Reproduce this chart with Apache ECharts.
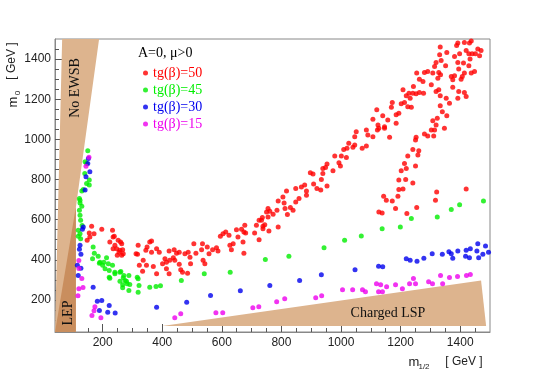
<!DOCTYPE html>
<html>
<head>
<meta charset="utf-8">
<title>m0 vs m1/2 scan</title>
<script src="https://cdn.jsdelivr.net/npm/echarts@6/dist/echarts.min.js"></script>
<style>
  html, body { margin: 0; padding: 0; background: #fff; }
  #chart { width: 545px; height: 370px; }
</style>
</head>
<body>
<div id="chart"></div>
<script>
// scan points, [m1/2, m0] in GeV
var tgb50 = [
  [163,567],[155,533],[171,530],[157,513],[148,497],[197,552],[233,547],[235,513],[224,488],[252,497],
  [260,488],[241,472],[247,455],[258,447],[264,422],[319,472],[312,430],[323,372],[239,517],[267,450],
  [269,430],[249,422],[255,438],[264,480],[317,427],[345,447],[349,463],[358,488],[364,493],[364,438],
  [381,455],[390,438],[336,397],[334,343],[347,372],[370,367],[381,330],[401,380],[409,405],[414,355],
  [423,330],[425,397],[423,443],[440,450],[448,433],[457,438],[437,410],[457,377],[462,350],[468,338],
  [476,430],[487,438],[493,413],[485,333],[495,380],[506,480],[513,433],[532,450],[537,397],[543,380],
  [535,480],[551,463],[557,430],[569,450],[582,460],[587,443],[595,517],[613,538],[624,522],[627,472],
  [632,450],[654,513],[649,550],[671,488],[674,433],[680,533],[677,572],[710,533],[716,572],[733,597],
  [738,555],[750,638],[755,613],[638,480],[604,530],[414,388],[442,397],[235,455],
  [666,552],[674,538],[725,597],[736,610],[738,567],[744,575],[725,500],[758,543],[755,655],[761,642],
  [772,627],[785,647],[789,563],[789,693],[805,713],[809,683],[817,743],[812,655],[820,625],[830,660],
  [839,647],[848,688],[848,755],[859,705],[867,763],[878,772],[884,743],[884,722],[897,833],[906,827],
  [908,777],[919,755],[932,747],[934,800],[939,830],[939,855],[948,860],[953,877],[953,767],[973,843],
  [979,917],[993,883],[998,867],[1001,917],[1009,950],[1018,910],[1020,955],[1026,980],[1040,960],[1046,972],
  [1046,1013],[1051,1038],[1071,955],[1085,967],[1090,1022],[1107,1013],[1122,1047],[1124,1072],[1146,1063],[1163,1010],
  [1185,1080],[1085,1047],
  [1107,1100],[1120,1147],[1127,1055],[1140,1117],[1146,1055],[1157,1097],[1172,1183],[1169,1160],[1194,1130],[1185,1122],
  [1202,1177],[1213,1183],[1224,1163],[1236,1160],[1208,1247],[1219,1217],[1232,1205],[1228,1230],[1241,1230],[1243,1263],
  [1252,1227],[1263,1233],[1277,1230],[1254,1330],[1263,1300],[1275,1288],[1280,1333],[1291,1338],[1308,1330],[1303,1272],
  [1319,1238],[1328,1247],[1333,1217],[1353,1205],[1375,1260],[1392,1205],[1395,1238],[1414,1233],[1420,1213],[1314,1363],
  [1319,1383],[1336,1393],[1351,1367],[1328,1333],[1334,1322],[1325,1305],[1333,1460],[1331,1422],[1355,1433],[1381,1413],
  [1398,1427],[1420,1443],[1429,1427],[1440,1427],[1451,1427],[1459,1450],[1470,1443],[1465,1417],[1433,1400],[1429,1367],
  [1411,1380],[1392,1383],[1395,1350],[1437,1330],[1448,1338],[1414,1330],[1407,1313],[1403,1300],[1381,1317],[1370,1313],
  [1375,1297],[1437,1490],[1414,1483],[1431,1480],[1392,1480],[1388,1467],
  [1333,1167],[1340,1138],[1355,1117],[1347,1055],[1323,1105],[1308,1093],[1319,1072],[1303,1047],[1314,1047],[1280,1027],
  [1291,1017],[1311,1017],[1252,1010],[1250,997],[1241,950],[1261,943],[1258,922],[1224,917],[1364,1180],[1213,880],
  [1219,855],[1250,867],[1202,843],[1194,797],[1217,800],[1241,783],[1194,750],[1208,752],[1321,738],[1420,752],
  [1191,717],[1143,717],[1152,697],[1172,693],[1317,697],[1183,655],[1254,660],[1127,638],[1138,633],[1221,630]
];
var tgb45 = [
  [150,943],[141,888],[146,880],[140,830],[155,797],[146,780],[155,772],[130,743],[135,750],[122,705],
  [124,683],[130,667],[122,647],[124,622],[126,597],[131,571],[118,547],[124,530],[118,517],[126,505],
  [124,697],
  [168,463],[172,433],[185,417],[166,405],[191,388],[204,388],[200,372],[213,410],[219,380],[208,355],
  [222,347],[233,372],[222,313],[241,338],[258,338],[271,322],[288,322],[275,297],[282,280],[267,275],
  [291,277],[288,247],[316,313],[319,238],[319,305],[189,383],[224,308],[241,330],[261,342],[258,293],
  [269,310],[280,293],[267,260],[322,272],
  [358,263],[379,267],[394,270],[464,297],[541,330],[628,338],[746,401],[825,417],[943,460],[1012,497],
  [1068,518],[1138,555],[1199,563],[1236,605],[1323,613],[1370,650],[1398,674],[1478,693]
];
var tgb30 = [
  [152,905],[150,880],[157,838],[144,813],[141,747],[135,563],[132,552],[124,472],[122,452],[127,427],
  [115,372],[127,358],[118,322],[168,263],[182,193],[197,197],[189,147],[222,172],[242,135],[217,138],
  [381,163],[482,188],[562,222],[662,245],[761,272],[861,297],[934,325],[1047,350],[1126,368],[1140,365],
  [1219,405],[1232,398],[1255,393],[1278,407],[1306,430],[1340,427],[1362,440],[1370,430],[1375,408],[1392,443],
  [1420,447],[1434,455],[1418,417],[1431,410],[1456,443],[1462,410],[1476,427],[1459,480],[1485,468],[1495,438]
];
var tgb15 = [
  [154,911],[144,866],[120,396],[120,356],[130,307],[134,262],[120,256],[117,221],[164,122],[171,146],
  [174,166],[194,111],[442,111],[462,131],[580,136],[603,136],[704,161],[724,166],[784,191],[811,206],
  [915,211],[935,221],[1005,251],[1039,251],[1072,251],[1082,241],[1126,241],[1139,241],[1119,281],[1133,276],
  [1153,266],[1183,276],[1206,256],[1230,281],[1243,306],[1250,281],[1294,291],[1307,281],[1334,321],[1341,281],
  [1364,311],[1391,316],[1421,321],[1434,326]
];

// excluded regions, polygon corners [m1/2, m0]
var noEwsbRegion = [[40,40],[64,1500],[188,1500],[110,660],[110,40]];
var lepRegion = [[40,40],[110,40],[110,663]];
var chargedLspRegion = [[400,70],[1470,297],[1487,70]];

var seriesNames = ['tg(β)=50', 'tg(β)=45', 'tg(β)=30', 'tg(β)=15'];
var xTickLabels = [200, 400, 600, 800, 1000, 1200, 1400];
var yTickLabels = [200, 400, 600, 800, 1000, 1200, 1400];
var minorTicks = [];
for (var v = 50; v < 1500; v += 50) minorTicks.push(v);

var colors = ['#ff0000', '#00ee00', '#0000ee', '#ee00ee'];
var serif = '"Liberation Serif", "DejaVu Serif", serif';
var sans = '"Liberation Sans", Arial, sans-serif';

function regionSeries(pts, color) {
  return {
    type: 'custom',
    silent: true,
    z: 1,
    data: pts,
    renderItem: function (params, api) {
      if (params.dataIndex !== 0) return;
      return {
        type: 'polygon',
        shape: { points: pts.map(function (p) { return api.coord(p); }) },
        style: { fill: color }
      };
    }
  };
}

function scatterSeries(name, data, color) {
  return {
    name: name,
    type: 'scatter',
    z: 3,
    symbolSize: 5,
    itemStyle: { color: color },
    data: data
  };
}

function plainLabel(v) { return String(v); }

function valueAxis(extra) {
  var axis = {
    type: 'value',
    min: 40,
    max: 1500,
    splitLine: { show: false },
    axisLine: { show: true, lineStyle: { color: '#888', width: 1 } },
    axisTick: { show: true, inside: true, length: 4, customValues: minorTicks, lineStyle: { color: '#555' } },
    axisLabel: { show: true, margin: 5, color: '#222', fontSize: 12, fontFamily: sans,
                 customValues: xTickLabels, formatter: plainLabel }
  };
  return Object.assign(axis, extra);
}

var chart = echarts.init(document.getElementById('chart'));

chart.setOption({
  animation: false,
  backgroundColor: '#fff',
  grid: { left: 55, right: 55, top: 39, bottom: 38, show: true, borderColor: '#888', borderWidth: 1 },
  xAxis: [
    valueAxis({ position: 'bottom' }),
    valueAxis({
      position: 'bottom',
      axisLine: { show: false },
      axisLabel: { show: false },
      axisTick: { show: true, inside: true, length: 8, customValues: xTickLabels, lineStyle: { color: '#555' } }
    })
  ],
  yAxis: [
    valueAxis({
      position: 'left',
      axisLabel: { show: true, margin: 4, color: '#222', fontSize: 12, fontFamily: sans,
                   customValues: yTickLabels, formatter: plainLabel }
    }),
    valueAxis({
      position: 'left',
      axisLine: { show: false },
      axisLabel: { show: false },
      axisTick: { show: true, inside: true, length: 8, customValues: yTickLabels, lineStyle: { color: '#555' } }
    })
  ],
  legend: {
    orient: 'vertical',
    left: 138,
    top: 61,
    icon: 'circle',
    itemWidth: 5,
    itemHeight: 5,
    itemGap: 3,
    selectedMode: false,
    textStyle: { fontFamily: serif, fontSize: 14 },
    data: seriesNames.map(function (n, i) {
      return { name: n, textStyle: { color: colors[i] } };
    })
  },
  graphic: [
    { type: 'text', left: 138, top: 46, style: { text: 'A=0, μ>0', font: '14px ' + serif, fill: '#000' } },
    { type: 'text', x: 75, y: 88, rotation: Math.PI / 2, z: 10,
      style: { text: 'No EWSB', font: '14px ' + serif, fill: '#111', align: 'center', verticalAlign: 'middle' } },
    { type: 'text', x: 68, y: 313, rotation: Math.PI / 2, z: 10,
      style: { text: 'LEP', font: '14px ' + serif, fill: '#111', align: 'center', verticalAlign: 'middle' } },
    { type: 'text', x: 388, y: 313, z: 10,
      style: { text: 'Charged LSP', font: '14px ' + serif, fill: '#111', align: 'center', verticalAlign: 'middle' } },
    // axis titles
    { type: 'text', x: 13, y: 102, rotation: Math.PI / 2,
      style: { text: 'm', font: '13px ' + sans, fill: '#222', align: 'center', verticalAlign: 'middle' } },
    { type: 'text', x: 18, y: 93, rotation: Math.PI / 2,
      style: { text: '0', font: '8px ' + sans, fill: '#222', align: 'center', verticalAlign: 'middle' } },
    { type: 'text', x: 12, y: 61, rotation: Math.PI / 2,
      style: { text: '[ GeV ]', font: '12px ' + sans, fill: '#222', align: 'center', verticalAlign: 'middle' } },
    { type: 'text', x: 414, y: 362,
      style: { text: 'm', font: '13px ' + sans, fill: '#222', align: 'center', verticalAlign: 'middle' } },
    { type: 'text', x: 424, y: 367,
      style: { text: '1/2', font: '8px ' + sans, fill: '#222', align: 'center', verticalAlign: 'middle' } },
    { type: 'text', x: 464, y: 362,
      style: { text: '[ GeV ]', font: '12px ' + sans, fill: '#222', align: 'center', verticalAlign: 'middle' } }
  ],
  series: [
    regionSeries(noEwsbRegion, '#ddb48e'),
    regionSeries(lepRegion, '#c98e5e'),
    regionSeries(chargedLspRegion, '#ddb48e'),
    scatterSeries(seriesNames[0], tgb50, colors[0]),
    scatterSeries(seriesNames[1], tgb45, colors[1]),
    scatterSeries(seriesNames[2], tgb30, colors[2]),
    scatterSeries(seriesNames[3], tgb15, colors[3])
  ]
});
</script>
</body>
</html>
